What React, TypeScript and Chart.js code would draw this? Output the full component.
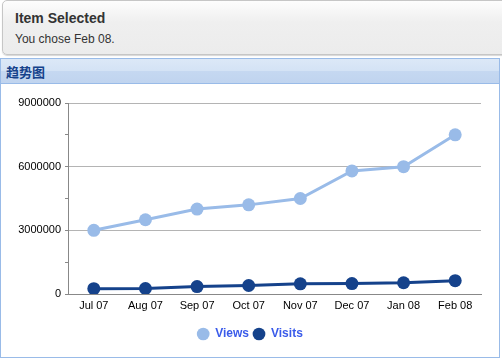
import React, { useEffect, useRef } from "react";
import { Chart, registerables } from "chart.js";

Chart.register(...registerables);

const categories = ["Jul 07", "Aug 07", "Sep 07", "Oct 07", "Nov 07", "Dec 07", "Jan 08", "Feb 08"];
const viewsValues = [3000000, 3500000, 4000000, 4200000, 4500000, 5800000, 6000000, 7500000];
const visitsValues = [250000, 260000, 350000, 400000, 480000, 490000, 530000, 630000];
const seriesNames = ["Views", "Visits"];
const seriesColors = ["#99bbe8", "#15428b"];
const yMax = 9000000;
const yStep = 1500000;
const yLabelStep = 3000000;

const FONT = "'Liberation Sans', Arial, sans-serif";

export default function App() {
  const canvasRef = useRef<HTMLCanvasElement | null>(null);

  useEffect(() => {
    document.body.style.margin = "0";
    const canvas = canvasRef.current;
    if (!canvas) return;
    const chart = new Chart(canvas, {
      type: "line",
      data: {
        labels: categories,
        datasets: [
          {
            label: seriesNames[0],
            data: viewsValues,
            borderColor: seriesColors[0],
            backgroundColor: seriesColors[0],
            pointBackgroundColor: seriesColors[0],
            pointBorderWidth: 0,
            pointRadius: 6.5,
            pointStyle: "circle",
            borderWidth: 3,
            tension: 0,
          },
          {
            label: seriesNames[1],
            data: visitsValues,
            borderColor: seriesColors[1],
            backgroundColor: seriesColors[1],
            pointBackgroundColor: seriesColors[1],
            pointBorderWidth: 0,
            pointRadius: 6.5,
            pointStyle: "circle",
            borderWidth: 3,
            tension: 0,
          },
        ],
      },
      options: {
        responsive: false,
        animation: false,
        devicePixelRatio: 1,
        layout: { padding: { top: 19, right: 0, left: 0, bottom: 6 } },
        plugins: {
          tooltip: { enabled: false },
          legend: {
            position: "bottom",
            labels: {
              usePointStyle: true,
              pointStyle: "circle",
              boxWidth: 13,
              boxHeight: 9,
              padding: 4,
              color: "#3a5bea",
              font: { family: FONT, size: 12, weight: "bold" },
            },
          },
        },
        scales: {
          x: {
            offset: true,
            grid: { display: true, color: "transparent", drawTicks: false },
            border: { display: true, color: "#888888", width: 1 },
            ticks: {
              color: "#000000",
              padding: 5,
              font: { family: FONT, size: 11 },
              maxRotation: 0,
            },
            afterFit: (s: any) => {
              s.height = 30;
            },
          },
          y: {
            min: 0,
            max: yMax,
            grid: {
              color: (ctx: any) =>
                ctx.tick && ctx.tick.value % yLabelStep === 0 && ctx.tick.value !== 0 ? "#b4b4b4" : "transparent",
              tickColor: "#888888",
              tickLength: 3,
              drawTicks: true,
            },
            border: { display: true, color: "#888888", width: 1 },
            ticks: {
              stepSize: yStep,
              color: "#000000",
              padding: 4,
              font: { family: FONT, size: 11 },
              callback: (v: any) => (Number(v) % yLabelStep === 0 ? String(v) : ""),
            },
            afterFit: (s: any) => {
              s.width = 67;
            },
          },
          yRightGap: {
            type: "linear",
            position: "right",
            display: true,
            min: 0,
            max: 1,
            grid: { drawOnChartArea: false, drawTicks: false, display: false },
            border: { display: false },
            ticks: { display: false },
            afterFit: (s: any) => {
              s.width = 18;
            },
          },
        },
      },
    });
    return () => chart.destroy();
  }, []);

  return (
    <div style={{ position: "relative", width: 502, height: 362, background: "#ffffff", overflow: "hidden" }}>
      <div
        style={{
          position: "absolute",
          left: 2,
          top: 0,
          width: 520,
          height: 53,
          border: "1px solid #c6c6c6",
          borderRadius: 5,
          background: "linear-gradient(#fdfdfd, #efefef 40%, #ececec)",
          boxShadow: "0 1px 1px #d6d6d6",
          fontFamily: FONT,
        }}
      >
        <div style={{ position: "absolute", left: 12, top: 9, fontSize: 14, fontWeight: "bold", color: "#333333" }}>
          Item Selected
        </div>
        <div style={{ position: "absolute", left: 12, top: 31, fontSize: 12, color: "#333333" }}>
          You chose Feb 08.
        </div>
      </div>
      <div
        style={{
          position: "absolute",
          left: 0,
          top: 58,
          width: 498,
          height: 298,
          border: "1px solid #99bbe8",
          background: "#ffffff",
        }}
      >
        <div
          style={{
            position: "absolute",
            left: 0,
            top: 0,
            width: 498,
            height: 24,
            borderBottom: "1px solid #99bbe8",
            background: "linear-gradient(#dce8f7, #d4e3f5 48%, #c5d8f1 52%, #c0d4ef)",
          }}
        >
          <div
            style={{
              position: "absolute",
              left: 5,
              top: 5,
              fontSize: 13,
              lineHeight: "15px",
              fontWeight: "bold",
              color: "#15428b",
              fontFamily: "'Noto Sans CJK SC', sans-serif",
            }}
          >
            趋势图
          </div>
        </div>
        <canvas
          ref={canvasRef}
          width={498}
          height={272}
          style={{ position: "absolute", left: 0, top: 25, width: 498, height: 272 }}
        />
      </div>
    </div>
  );
}
